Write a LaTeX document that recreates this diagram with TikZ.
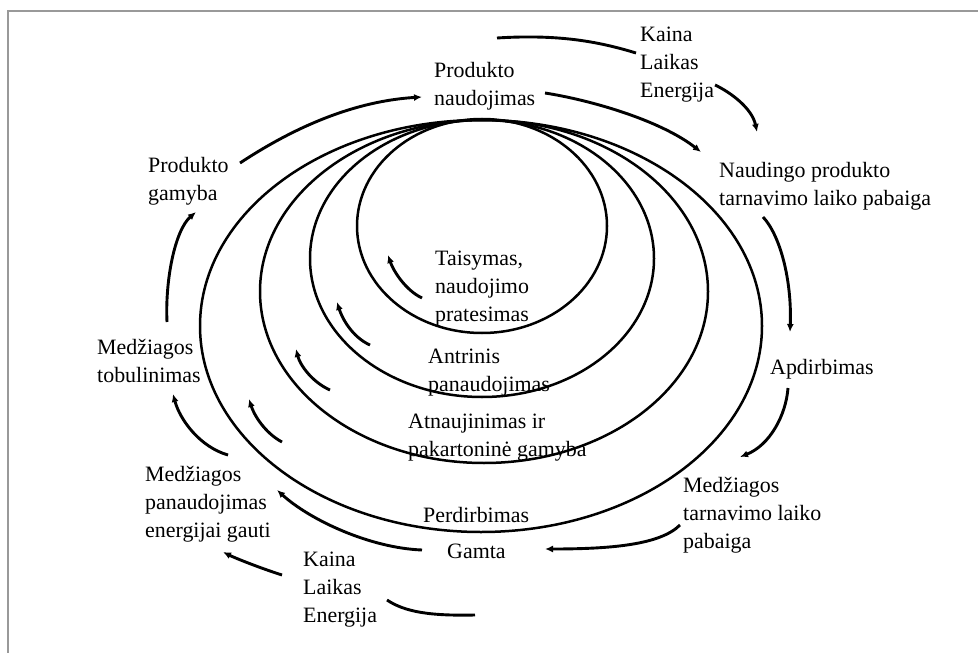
\documentclass[tikz,border=0pt]{standalone}
\usepackage{fontspec}
\setmainfont{Liberation Serif}
\usetikzlibrary{arrows.meta}
\begin{document}
\begin{tikzpicture}[x=1bp,y=-1bp,
  lbl/.style={anchor=north west, inner sep=0pt, align=left, font=\fontsize{22}{28}\selectfont, text=black},
  ring/.style={line width=2.5bp},
  flow/.style={line width=2.9bp, -{Latex[length=8bp,width=7bp]}},
  plain/.style={line width=2.9bp},
  frameline/.style={draw=black!40, line width=2bp}]
\useasboundingbox (0,0) rectangle (978,653);
\fill[white] (0,0) rectangle (978,653);
\draw[frameline] (8,653) -- (8,11) -- (978,11);

% rings
\draw[ring] (482,226) ellipse [x radius=125, y radius=107];
\draw[ring] (482,258.5) ellipse [x radius=172, y radius=138.5];
\draw[ring] (484,291.5) ellipse [x radius=224, y radius=171.5];
\draw[ring] (481,326) ellipse [x radius=281, y radius=206];

% labels
\node[lbl] (pn) at (434,62) {Produkto\\naudojimas};
\node[lbl] (kt) at (640,27) {Kaina\\Laikas\\Energija};
\node[lbl] (np) at (719,162) {Naudingo produkto\\tarnavimo laiko pabaiga};
\node[lbl] (ap) at (770,359) {Apdirbimas};
\node[lbl] (mt) at (683,477) {Medžiagos\\tarnavimo laiko\\pabaiga};
\node[lbl] (ga) at (447,544) {Gamta};
\node[lbl] (pe) at (423,507) {Perdirbimas};
\node[lbl] (kb) at (303,552) {Kaina\\Laikas\\Energija};
\node[lbl] (me) at (145,466) {Medžiagos\\panaudojimas\\energijai gauti};
\node[lbl] (mtb) at (97,339) {Medžiagos\\tobulinimas};
\node[lbl] (pg) at (148,157) {Produkto\\gamyba};
\node[lbl] (ta) at (435,251) {Taisymas,\\naudojimo\\pratesimas};
\node[lbl] (an) at (428,349) {Antrinis\\panaudojimas};
\node[lbl] (at) at (408,414) {Atnaujinimas ir\\pakartoninė gamyba};

% connector end points
\coordinate (a1s) at (240,163);  \coordinate (a1e) at (422,97);
\coordinate (a2s) at (545,93);   \coordinate (a2e) at (701,152);
\coordinate (t1s) at (497,38);   \coordinate (t1e) at (636,53);
\coordinate (t2s) at (715,85);   \coordinate (t2e) at (757,132);
\coordinate (a4s) at (763,217);  \coordinate (a4e) at (790,332);
\coordinate (a5s) at (788,388);  \coordinate (a5e) at (740,457);
\coordinate (a6s) at (680,525);  \coordinate (a6e) at (545,549);
\coordinate (a7s) at (422,550);  \coordinate (a7e) at (277,490);
\coordinate (b1s) at (475,615);  \coordinate (b1e) at (387,600);
\coordinate (b2s) at (282,575);  \coordinate (b2e) at (223,552);
\coordinate (a9s) at (228,455);  \coordinate (a9e) at (173,394);
\coordinate (a10s) at (167,322); \coordinate (a10e) at (196,212);
\coordinate (r1s) at (422,298);  \coordinate (r1e) at (388,255);
\coordinate (r2s) at (370,345);  \coordinate (r2e) at (337,302);
\coordinate (r3s) at (330,390);  \coordinate (r3e) at (296,349);
\coordinate (r4s) at (282,442);  \coordinate (r4e) at (249,399);

% outer cycle
\draw[flow] (a1s) .. controls (275,140) and (340,102) .. (a1e);
\draw[flow] (a2s) .. controls (590,100) and (660,120) .. (a2e);
\draw[plain] (t1s) .. controls (560,34) and (600,42) .. (t1e);
\draw[flow] (t2s) .. controls (730,92) and (752,108) .. (t2e);
\draw[flow] (a4s) .. controls (780,235) and (792,280) .. (a4e);
\draw[flow] (a5s) .. controls (786,415) and (770,445) .. (a5e);
\draw[flow] (a6s) .. controls (660,545) and (610,549) .. (a6e);
\draw[flow] (a7s) .. controls (370,548) and (310,520) .. (a7e);
\draw[plain] (b1s) .. controls (430,616) and (405,612) .. (b1e);
\draw[flow] (b2s) .. controls (260,568) and (235,558) .. (b2e);
\draw[flow] (a9s) .. controls (200,447) and (180,420) .. (a9e);
\draw[flow] (a10s) .. controls (165,280) and (175,230) .. (a10e);

% inner small arrows
\draw[flow] (r1s) .. controls (405,290) and (393,270) .. (r1e);
\draw[flow] (r2s) .. controls (352,337) and (342,318) .. (r2e);
\draw[flow] (r3s) .. controls (312,382) and (300,365) .. (r3e);
\draw[flow] (r4s) .. controls (265,433) and (254,415) .. (r4e);
\end{tikzpicture}
\end{document}
